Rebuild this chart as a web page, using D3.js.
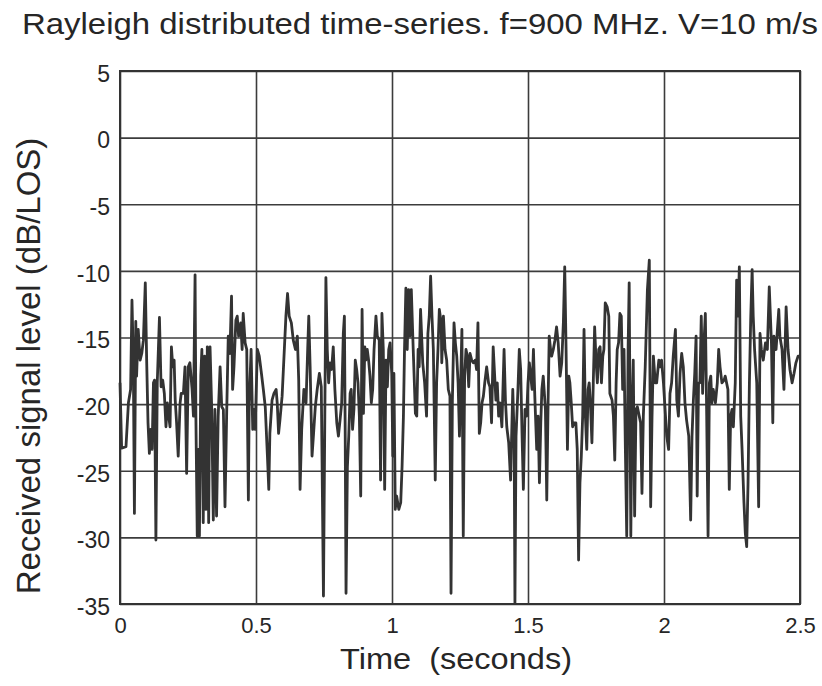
<!DOCTYPE html>
<html lang="en">
<head>
<meta charset="utf-8">
<script src="https://d3js.org/d3.v7.min.js"></script>
<style>
  body { margin: 0; background: #fff; }
  text { font-family: "Liberation Sans", Arial, Helvetica, sans-serif; fill: #262626; }
</style>
</head>
<body>
<div id="chart"></div>
<script>

// labels
var title = "Rayleigh distributed time-series. f=900 MHz. V=10 m/s";
var xLabel = "Time  (seconds)";
var yLabel = "Received signal level (dB/LOS)";
var xTicks = [0, 0.5, 1, 1.5, 2, 2.5];
var yTicks = [5, 0, -5, -10, -15, -20, -25, -30, -35];

// [time (s), level (dB)]
var signal = [
  [0.000,-18.4],[0.006,-23.3],[0.022,-23.2],[0.031,-19.9],[0.039,-18.9],[0.044,-12.2],[0.049,-16.7],[0.053,-28.2],
  [0.058,-13.8],[0.061,-17.9],[0.067,-14.4],[0.074,-16.7],[0.080,-16.2],[0.086,-15.2],[0.093,-10.9],[0.098,-16.7],
  [0.103,-21.4],[0.108,-23.7],[0.113,-21.9],[0.118,-23.4],[0.123,-18.4],[0.127,-18.2],[0.132,-30.2],[0.137,-18.4],
  [0.145,-13.5],[0.151,-18.7],[0.157,-18.2],[0.163,-19.2],[0.169,-21.7],[0.174,-19.9],[0.179,-20.9],[0.184,-21.7],
  [0.189,-15.7],[0.194,-17.2],[0.199,-16.7],[0.203,-19.7],[0.208,-21.4],[0.214,-23.9],[0.221,-19.9],[0.225,-19.2],
  [0.233,-19.2],[0.239,-17.2],[0.245,-25.2],[0.251,-17.2],[0.257,-16.9],[0.265,-18.9],[0.270,-20.9],[0.276,-10.3],
  [0.279,-20.9],[0.284,-29.9],[0.288,-23.4],[0.292,-29.9],[0.297,-17.9],[0.301,-15.9],[0.306,-28.9],[0.311,-16.4],
  [0.316,-27.9],[0.321,-15.7],[0.326,-28.9],[0.331,-15.7],[0.337,-20.2],[0.343,-28.7],[0.349,-20.4],[0.355,-28.4],
  [0.361,-20.9],[0.368,-17.2],[0.374,-20.2],[0.380,-20.4],[0.386,-27.7],[0.392,-20.9],[0.398,-14.9],[0.404,-16.2],
  [0.410,-11.9],[0.414,-18.9],[0.419,-17.2],[0.426,-13.7],[0.431,-13.4],[0.436,-14.9],[0.444,-13.9],[0.449,-15.9],
  [0.453,-13.2],[0.460,-15.4],[0.466,-15.9],[0.472,-27.2],[0.475,-19.9],[0.482,-15.9],[0.488,-21.9],[0.493,-20.4],
  [0.497,-21.9],[0.505,-15.9],[0.512,-16.4],[0.520,-17.7],[0.527,-18.9],[0.534,-20.2],[0.542,-23.9],[0.547,-26.4],
  [0.551,-22.2],[0.559,-19.7],[0.566,-19.2],[0.574,-18.9],[0.578,-19.9],[0.583,-22.2],[0.588,-21.2],[0.596,-19.4],
  [0.603,-16.4],[0.610,-13.4],[0.616,-11.7],[0.622,-13.4],[0.630,-13.9],[0.637,-15.2],[0.645,-15.9],[0.652,-14.9],
  [0.657,-18.2],[0.662,-26.4],[0.668,-21.9],[0.676,-18.9],[0.684,-19.9],[0.690,-15.9],[0.694,-13.4],[0.699,-17.2],
  [0.706,-23.9],[0.711,-22.4],[0.718,-20.2],[0.725,-18.9],[0.733,-17.7],[0.740,-18.7],[0.748,-34.4],[0.753,-20.9],
  [0.757,-10.5],[0.762,-15.9],[0.767,-18.4],[0.772,-16.9],[0.778,-17.4],[0.784,-15.7],[0.790,-18.9],[0.797,-21.4],
  [0.803,-22.4],[0.809,-21.2],[0.815,-19.9],[0.821,-14.7],[0.825,-13.4],[0.828,-22.4],[0.831,-34.2],[0.836,-24.7],
  [0.841,-22.4],[0.846,-19.2],[0.850,-18.9],[0.855,-21.9],[0.860,-20.4],[0.865,-16.7],[0.870,-17.4],[0.875,-18.4],
  [0.880,-20.9],[0.885,-26.9],[0.890,-12.9],[0.895,-20.7],[0.900,-15.7],[0.904,-16.7],[0.909,-15.9],[0.914,-16.7],
  [0.919,-17.9],[0.924,-19.9],[0.929,-18.9],[0.934,-15.9],[0.941,-13.4],[0.946,-14.9],[0.953,-15.2],[0.958,-25.7],
  [0.963,-13.2],[0.968,-15.9],[0.973,-26.4],[0.978,-16.7],[0.983,-18.7],[0.988,-15.9],[0.993,-15.4],[0.999,-17.7],
  [1.003,-23.9],[1.007,-17.7],[1.012,-27.9],[1.017,-26.9],[1.025,-27.9],[1.032,-27.4],[1.037,-24.7],[1.042,-20.9],
  [1.046,-15.9],[1.051,-11.3],[1.056,-15.9],[1.061,-11.4],[1.066,-14.9],[1.071,-11.4],[1.078,-15.9],[1.086,-20.7],
  [1.091,-20.9],[1.096,-15.9],[1.100,-17.2],[1.105,-12.9],[1.113,-16.9],[1.120,-18.4],[1.127,-20.9],[1.132,-14.7],
  [1.137,-13.4],[1.142,-10.4],[1.147,-13.4],[1.152,-15.9],[1.159,-25.7],[1.164,-18.4],[1.169,-15.9],[1.174,-12.9],
  [1.181,-13.9],[1.183,-16.9],[1.189,-13.4],[1.195,-15.9],[1.201,-16.7],[1.207,-18.9],[1.213,-19.4],[1.217,-34.2],
  [1.222,-19.7],[1.228,-13.9],[1.233,-15.4],[1.238,-16.4],[1.243,-18.4],[1.248,-22.4],[1.253,-17.9],[1.257,-14.4],
  [1.262,-29.9],[1.267,-17.9],[1.272,-15.9],[1.277,-16.4],[1.282,-18.7],[1.287,-16.2],[1.293,-16.7],[1.299,-16.9],
  [1.306,-16.7],[1.311,-17.4],[1.316,-13.9],[1.321,-22.2],[1.326,-21.4],[1.331,-19.9],[1.336,-19.4],[1.341,-18.4],
  [1.348,-17.2],[1.355,-18.4],[1.360,-18.7],[1.366,-21.4],[1.372,-15.7],[1.377,-17.7],[1.382,-19.7],[1.387,-18.4],
  [1.392,-20.9],[1.397,-19.9],[1.404,-21.7],[1.412,-15.9],[1.417,-19.7],[1.422,-21.7],[1.429,-22.9],[1.436,-25.7],
  [1.444,-18.9],[1.449,-22.4],[1.452,-34.9],[1.456,-22.4],[1.463,-18.9],[1.468,-15.9],[1.473,-17.4],[1.478,-22.2],
  [1.483,-26.4],[1.489,-20.4],[1.495,-20.9],[1.500,-18.4],[1.505,-16.9],[1.510,-17.9],[1.515,-18.9],[1.520,-15.9],
  [1.525,-19.4],[1.532,-23.4],[1.537,-20.9],[1.542,-25.9],[1.547,-21.4],[1.551,-18.9],[1.556,-17.9],[1.564,-20.4],
  [1.569,-27.2],[1.574,-19.7],[1.578,-14.9],[1.583,-15.9],[1.587,-16.4],[1.593,-15.9],[1.599,-15.2],[1.605,-14.2],
  [1.611,-15.4],[1.618,-17.9],[1.624,-16.9],[1.630,-13.9],[1.635,-9.7],[1.640,-15.9],[1.645,-23.4],[1.650,-17.9],
  [1.654,-18.4],[1.659,-19.9],[1.664,-21.7],[1.669,-21.4],[1.676,-21.4],[1.681,-23.4],[1.686,-31.7],[1.691,-25.9],
  [1.696,-23.9],[1.701,-20.9],[1.706,-14.4],[1.711,-20.9],[1.716,-23.4],[1.721,-18.9],[1.725,-18.4],[1.730,-20.2],
  [1.735,-22.9],[1.740,-18.4],[1.745,-14.2],[1.750,-16.7],[1.755,-18.4],[1.760,-15.9],[1.765,-15.7],[1.770,-18.4],
  [1.775,-16.4],[1.779,-15.9],[1.784,-12.4],[1.791,-12.7],[1.797,-13.4],[1.801,-19.2],[1.809,-19.7],[1.814,-20.9],
  [1.819,-24.2],[1.824,-18.4],[1.828,-15.9],[1.833,-15.4],[1.838,-13.2],[1.843,-13.4],[1.848,-18.9],[1.853,-15.9],
  [1.858,-23.4],[1.863,-29.9],[1.868,-15.9],[1.872,-10.9],[1.878,-29.9],[1.882,-20.9],[1.887,-16.7],[1.892,-28.4],
  [1.897,-20.4],[1.902,-20.2],[1.909,-20.9],[1.914,-21.4],[1.919,-26.7],[1.924,-20.9],[1.931,-17.2],[1.939,-11.4],
  [1.946,-9.2],[1.951,-27.7],[1.956,-20.9],[1.961,-16.4],[1.968,-18.4],[1.973,-18.4],[1.981,-16.7],[1.985,-17.2],
  [1.991,-16.7],[1.998,-18.4],[2.004,-20.4],[2.010,-22.4],[2.017,-23.4],[2.022,-19.2],[2.028,-18.4],[2.034,-16.4],
  [2.042,-14.4],[2.047,-19.7],[2.053,-20.9],[2.059,-17.7],[2.065,-16.2],[2.071,-17.2],[2.077,-19.9],[2.083,-21.2],
  [2.091,-22.4],[2.098,-28.7],[2.103,-22.4],[2.108,-19.7],[2.113,-17.7],[2.118,-14.9],[2.122,-26.9],[2.127,-18.4],
  [2.132,-18.4],[2.137,-13.4],[2.142,-19.2],[2.147,-15.4],[2.152,-13.2],[2.157,-20.9],[2.162,-29.9],[2.167,-18.4],
  [2.172,-17.9],[2.176,-19.9],[2.181,-18.9],[2.189,-19.9],[2.196,-18.4],[2.201,-15.9],[2.206,-17.2],[2.213,-18.4],
  [2.221,-18.2],[2.225,-17.9],[2.230,-18.4],[2.235,-18.9],[2.240,-26.4],[2.245,-20.9],[2.250,-20.4],[2.255,-21.7],
  [2.262,-18.4],[2.267,-10.7],[2.272,-13.4],[2.277,-9.7],[2.282,-20.9],[2.287,-23.4],[2.294,-27.4],[2.299,-29.7],
  [2.304,-30.7],[2.309,-25.9],[2.314,-18.4],[2.319,-13.4],[2.324,-9.9],[2.328,-13.4],[2.333,-15.9],[2.341,-18.4],
  [2.348,-27.7],[2.353,-14.7],[2.358,-15.9],[2.365,-16.7],[2.373,-15.4],[2.380,-15.9],[2.387,-11.2],[2.395,-15.4],
  [2.400,-21.4],[2.404,-14.9],[2.412,-15.9],[2.417,-14.4],[2.422,-12.9],[2.426,-14.9],[2.434,-15.9],[2.441,-18.9],
  [2.449,-12.7],[2.456,-15.9],[2.463,-17.4],[2.471,-18.4],[2.478,-17.7],[2.485,-16.9],[2.493,-16.4],[2.500,-16.4]
];

var margin = {top: 71, right: 22, bottom: 82, left: 120},
  width = 822 - margin.left - margin.right,
  height = 686 - margin.top - margin.bottom;

var svg = d3.select("#chart")
  .append("svg")
    .attr("width", 822)
    .attr("height", 686);

var g = svg.append("g")
  .attr("transform", "translate(" + margin.left + "," + margin.top + ")");

var x = d3.scaleLinear().domain([0, 2.5]).range([0, width]);
var y = d3.scaleLinear().domain([-35, 5]).range([height, 0]);

// vertical grid + x tick labels
var xAxis = g.append("g")
  .attr("transform", "translate(0," + height + ")")
  .call(d3.axisBottom(x).tickValues(xTicks).tickSize(-height).tickPadding(13)
    .tickFormat(function(d) { return String(d); }));
xAxis.select(".domain").remove();
xAxis.selectAll("line").attr("stroke", "#3c3c3c").attr("stroke-width", 1.6);
xAxis.selectAll("text").style("font-size", "22px").attr("fill", "#262626");

// horizontal grid + y tick labels
var yAxis = g.append("g")
  .call(d3.axisLeft(y).tickValues(yTicks).tickSize(-width).tickPadding(10)
    .tickFormat(function(d) { return String(d); }));
yAxis.select(".domain").remove();
yAxis.selectAll("line").attr("stroke", "#3c3c3c").attr("stroke-width", 1.6);
yAxis.selectAll("text").style("font-size", "23px").attr("fill", "#262626").attr("dy", "0.45em");

// frame
g.append("rect")
  .attr("width", width)
  .attr("height", height)
  .attr("fill", "none")
  .attr("stroke", "#333")
  .attr("stroke-width", 2);

// the time series
var line = d3.line()
  .x(function(d) { return x(d[0]); })
  .y(function(d) { return y(d[1]); });

g.append("path")
  .datum(signal)
  .attr("fill", "none")
  .attr("stroke", "#333")
  .attr("stroke-width", 2.8)
  .attr("stroke-linejoin", "round")
  .attr("d", line);

// titles
svg.append("text")
  .attr("x", 420)
  .attr("y", 34)
  .attr("text-anchor", "middle")
  .attr("textLength", 796)
  .attr("lengthAdjust", "spacingAndGlyphs")
  .style("font-size", "30px")
  .text(title);

svg.append("text")
  .attr("x", 456)
  .attr("y", 669)
  .attr("text-anchor", "middle")
  .attr("textLength", 232)
  .attr("lengthAdjust", "spacingAndGlyphs")
  .style("font-size", "29px")
  .style("white-space", "pre")
  .text(xLabel);

svg.append("text")
  .attr("transform", "translate(40,366) rotate(-90)")
  .attr("text-anchor", "middle")
  .style("font-size", "33px")
  .text(yLabel);

</script>
</body>
</html>
